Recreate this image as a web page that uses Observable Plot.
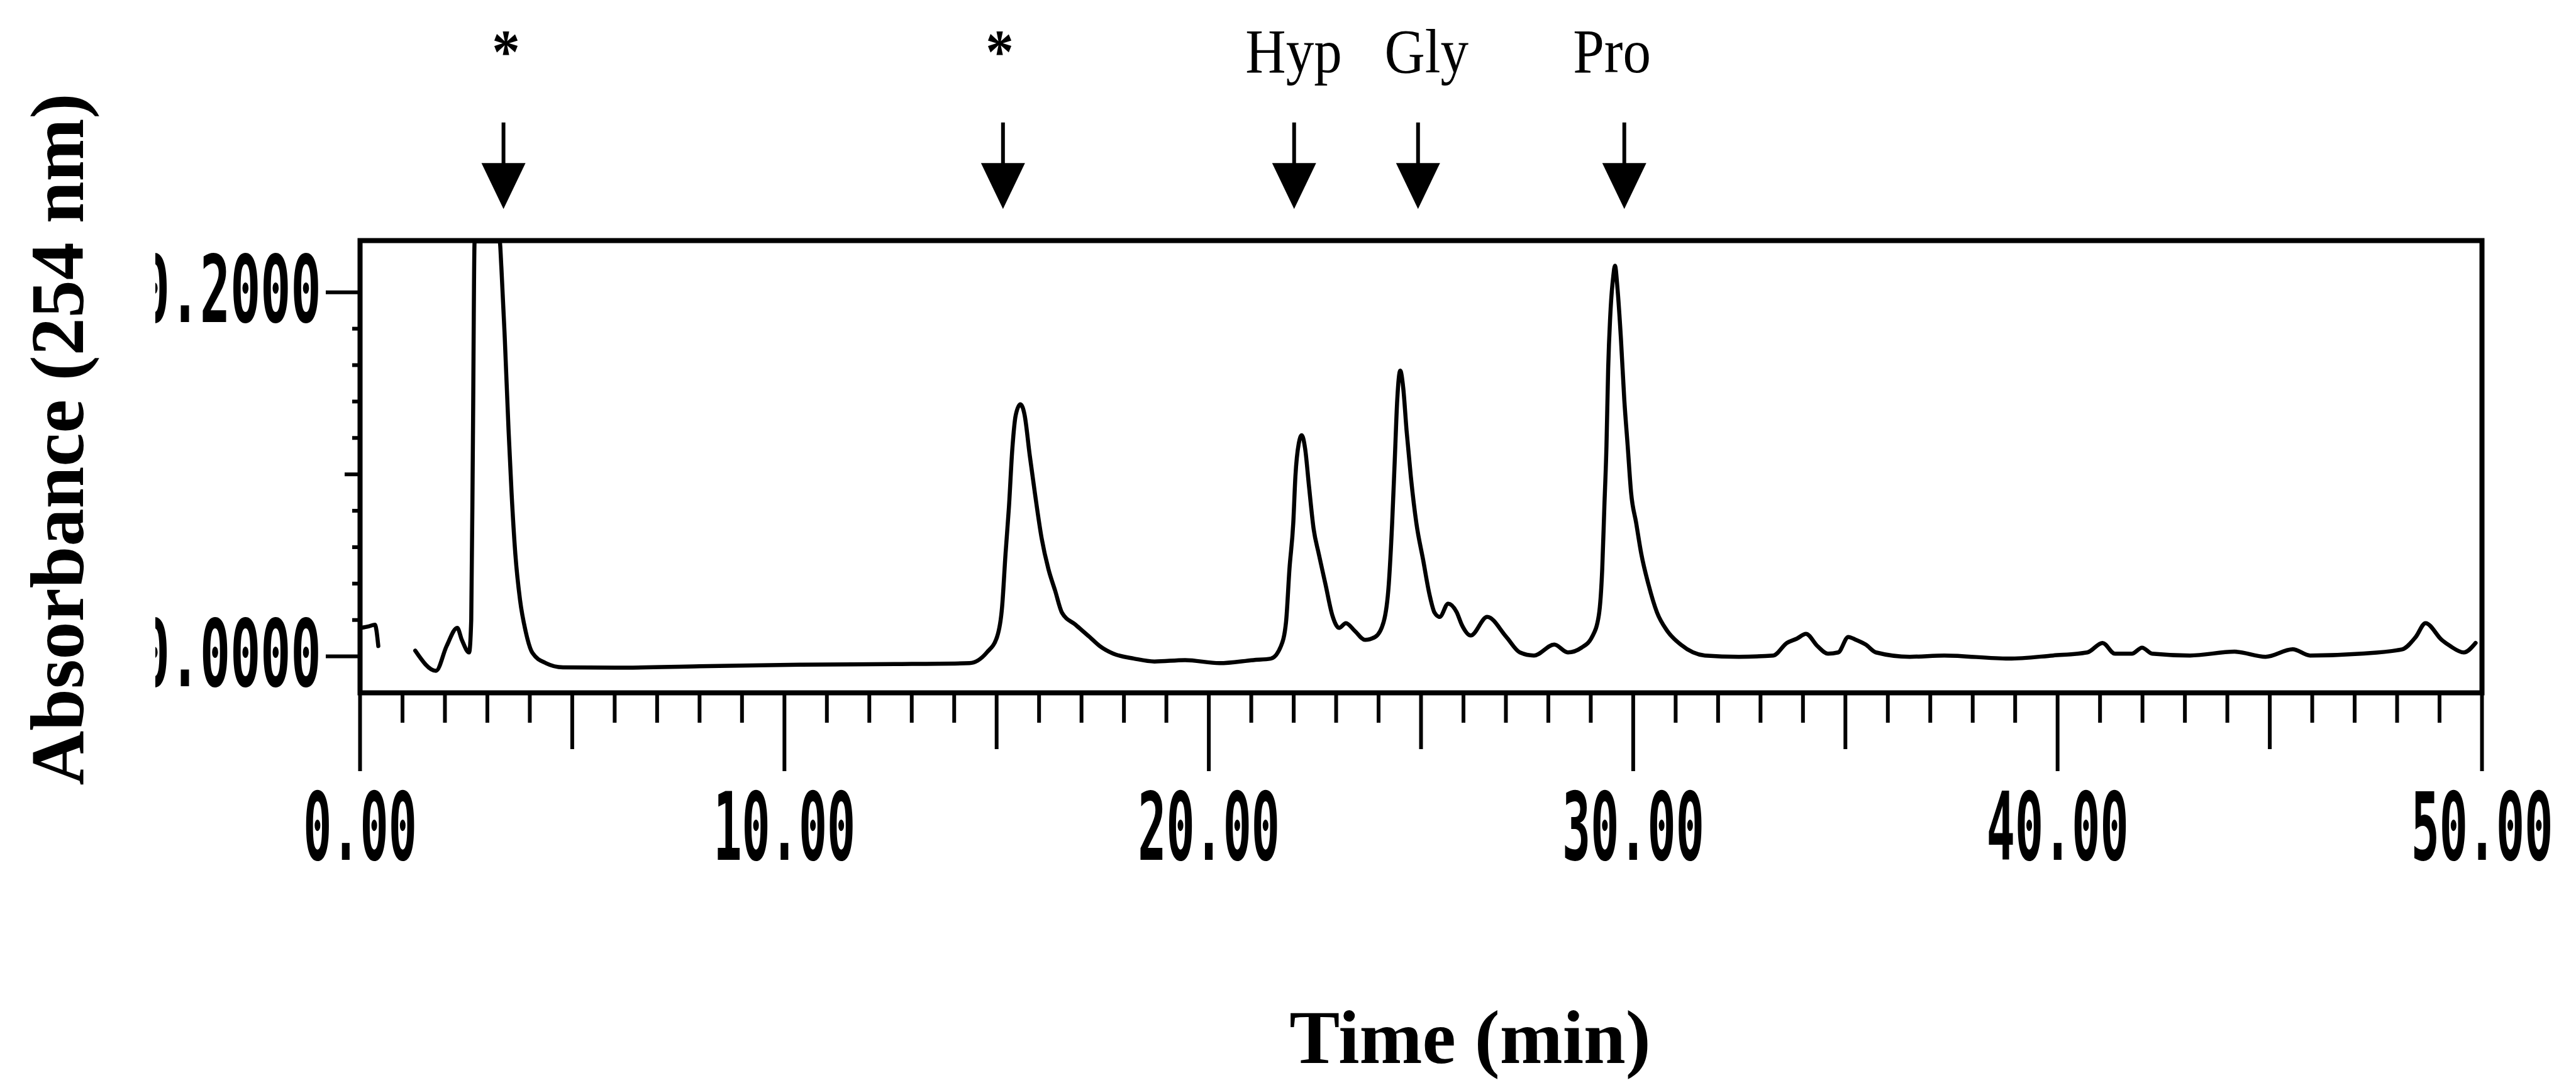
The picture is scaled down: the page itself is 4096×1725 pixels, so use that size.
<!DOCTYPE html>
<html>
<head>
<meta charset="utf-8">
<script src="https://cdn.jsdelivr.net/npm/d3@7"></script>
<script src="https://cdn.jsdelivr.net/npm/@observablehq/plot@0.6"></script>
<style>
  html, body { margin: 0; padding: 0; background: #fff; }
  #chart svg { display: block; }
</style>
</head>
<body>
<div id="chart"></div>
<script>
// ---- data ----
const times = [
  0.03, 0.20, 0.35, 0.43, 0.80,
  1.30, 1.79, 2.04, 2.29, 2.40, 2.57, 2.62, 2.66, 2.70, 3.00, 3.29, 3.33, 3.41, 3.50, 3.57, 3.66, 3.77, 3.90, 4.06, 4.38, 4.78,
  6.00, 8.00, 10.40, 12.59, 14.36, 14.77, 15.01, 15.13, 15.21, 15.29, 15.37, 15.45, 15.56, 15.66, 15.78, 15.90, 16.06, 16.22, 16.38, 16.54, 16.86, 17.19, 17.43, 17.75,
  18.24, 18.72, 19.44, 20.25, 21.05, 21.46, 21.70, 21.82, 21.90, 21.99, 22.04, 22.12, 22.19, 22.27, 22.36, 22.47, 22.59, 22.75, 22.91, 23.07, 23.23, 23.44, 23.68, 23.92,
  24.12, 24.24, 24.32, 24.38, 24.44, 24.51, 24.58, 24.66, 24.76, 24.89, 25.05, 25.20, 25.32, 25.44, 25.64, 25.84, 25.96, 26.17, 26.56, 27.01, 27.33, 27.66, 28.14, 28.46, 28.78,
  29.03, 29.19, 29.27, 29.32, 29.37, 29.41, 29.47, 29.53, 29.57, 29.63, 29.71, 29.79, 29.87, 29.95, 30.07, 30.19, 30.36, 30.56, 30.80, 31.12, 31.69, 32.49, 33.30,
  33.62, 33.86, 34.07, 34.34, 34.59, 34.83, 35.07, 35.23, 35.48, 35.72, 36.52, 37.33, 38.85, 39.89, 40.70, 41.06, 41.35, 41.75, 41.99, 42.23, 43.12, 44.17, 44.90,
  45.54, 45.95, 47.15, 48.12, 48.44, 48.67, 49.05, 49.25, 49.57, 49.85
];
const absorbance = [
  0.0157, 0.0165, 0.0174, 0.0057, null,
  0.0032, -0.0079, 0.0057, 0.0157, 0.0090, 0.0022, 0.0200, 0.1200, 0.2280, 0.2280, 0.2280, 0.2138, 0.1750, 0.1240, 0.0900, 0.0560, 0.0310, 0.0140, 0.0020, -0.0037, -0.0060,
  -0.0062, -0.0054, -0.0045, -0.0042, -0.0037, 0.0022, 0.0107, 0.0275, 0.0564, 0.0820, 0.1140, 0.1325, 0.1385, 0.1325, 0.1105, 0.0900, 0.0650, 0.0480, 0.0360, 0.0240, 0.0174, 0.0107, 0.0057, 0.0015,
  -0.0012, -0.0028, -0.0020, -0.0037, -0.0020, -0.0012, 0.0057, 0.0190, 0.0480, 0.0733, 0.0988, 0.1170, 0.1215, 0.1140, 0.0936, 0.0700, 0.0564, 0.0395, 0.0226, 0.0157, 0.0183, 0.0140, 0.0091, 0.0107,
  0.0190, 0.0395, 0.0733, 0.1070, 0.1410, 0.1570, 0.1477, 0.1240, 0.0988, 0.0733, 0.0530, 0.0340, 0.0240, 0.0217, 0.0290, 0.0243, 0.0174, 0.0115, 0.0217, 0.0107, 0.0022, 0.0005, 0.0065, 0.0022, 0.0048,
  0.0107, 0.0226, 0.0480, 0.0820, 0.1156, 0.1580, 0.1917, 0.2087, 0.2146, 0.2020, 0.1748, 0.1410, 0.1156, 0.0900, 0.0733, 0.0564, 0.0395, 0.0242, 0.0141, 0.0065, 0.0005, -0.0002, 0.0005,
  0.0074, 0.0098, 0.0124, 0.0057, 0.0015, 0.0022, 0.0107, 0.0093, 0.0065, 0.0022, -0.0002, 0.0005, -0.0012, 0.0005, 0.0022, 0.0074, 0.0015, 0.0015, 0.0048, 0.0015, 0.0005, 0.0026, -0.0002,
  0.0039, 0.0005, 0.0015, 0.0039, 0.0107, 0.0183, 0.0091, 0.0057, 0.0022, 0.0074
];
const arrowTimes = [3.38, 15.15, 22.01, 24.93, 29.79];
const peakLabels = ["*", "*", "Hyp", "Gly", "Pro"];
const labelTimes = [3.44, 15.07, 22.0, 25.13, 29.5];

const xMajorTicks = [0, 10, 20, 30, 40, 50];
const xMediumTicks = [5, 15, 25, 35, 45];
const xMinorTicks = d3.range(1, 50).filter(d => d % 5 !== 0);
const yMajorTicks = [0, 0.2];
const yMediumTicks = [0.1];
const yMinorTicks = [0.02, 0.04, 0.06, 0.08, 0.12, 0.14, 0.16, 0.18];

const xTitle = "Time (min)";
const yTitle = "Absorbance (254 nm)";

// ---- build tables ----
const trace = times.map((t, i) => ({t, a: absorbance[i]}));
const peaks = arrowTimes.map((t, i) => ({t, lt: labelTimes[i], label: peakLabels[i]}));

// narrow filled downward arrow head
const headSymbol = {
  draw(ctx) {
    ctx.moveTo(-35, -36.5);
    ctx.lineTo(35, -36.5);
    ctx.lineTo(0, 36.5);
    ctx.closePath();
  }
};

const mono = "'DejaVu Sans Mono', 'Liberation Mono', monospace";
const serif = "'Liberation Serif', 'Times New Roman', serif";

const svg = Plot.plot({
  width: 4096,
  height: 1725,
  marginLeft: 572,
  marginRight: 150,
  marginTop: 382,
  marginBottom: 624,
  style: {background: "#fff", color: "#000", overflow: "visible"},
  x: {domain: [0, 50], label: null},
  y: {domain: [-0.02, 0.2284], label: null},
  marks: [
    Plot.frame({stroke: "#000", strokeWidth: 8}),
    // x axis ticks (minor / medium / major)
    Plot.axisX(xMinorTicks, {tickSize: 48, strokeWidth: 6, tickFormat: () => "", label: null}),
    Plot.axisX(xMediumTicks, {tickSize: 90, strokeWidth: 6, tickFormat: () => "", label: null}),
    Plot.axisX(xMajorTicks, {
      tickSize: 125, tickPadding: 34, strokeWidth: 6, label: null,
      tickFormat: d3.format(".2f"),
      fontFamily: mono, fontSize: 150, fontWeight: "bold", fill: "#000"
    }),
    // y axis ticks
    Plot.axisY(yMinorTicks, {tickSize: 12, strokeWidth: 6, tickFormat: () => "", label: null}),
    Plot.axisY(yMediumTicks, {tickSize: 24, strokeWidth: 6, tickFormat: () => "", label: null}),
    Plot.axisY(yMajorTicks, {
      tickSize: 54, tickPadding: 8, strokeWidth: 6, label: null,
      tickFormat: d3.format(".4f"),
      fontFamily: mono, fontSize: 148, fontWeight: "bold", fill: "#000"
    }),
    // chromatogram trace
    Plot.line(trace, {x: "t", y: "a", stroke: "#000", strokeWidth: 6.5, curve: "monotone-x"}),
    // arrows
    Plot.ruleX(peaks, {x: "t", y1: 0.2931, y2: 0.262, stroke: "#000", strokeWidth: 6}),
    Plot.dot(peaks, {x: "t", y: 0.2584, symbol: headSymbol, fill: "#000", stroke: null}),
    // peak labels
    Plot.text(peaks, {
      filter: d => d.label === "*", x: "lt", text: "label",
      frameAnchor: "top", lineAnchor: "bottom", dy: -267.5,
      fontFamily: serif, fontSize: 99, fontWeight: "bold", fill: "#000"
    }),
    Plot.text(peaks, {
      filter: d => d.label !== "*", x: "lt", text: "label",
      frameAnchor: "top", lineAnchor: "bottom", dy: -267.5,
      fontFamily: serif, fontSize: 99, fill: "#000"
    }),
    // axis titles
    Plot.text([yTitle], {
      text: d => d, frameAnchor: "left", textAnchor: "middle", lineAnchor: "bottom",
      rotate: -90, dx: -440.5, dy: -43.5,
      fontFamily: serif, fontSize: 120, fontWeight: "bold", fill: "#000"
    }),
    Plot.text([xTitle], {
      text: d => d, frameAnchor: "bottom", textAnchor: "middle", lineAnchor: "bottom",
      dx: 78, dy: 588,
      fontFamily: serif, fontSize: 120, fontWeight: "bold", fill: "#000"
    })
  ]
});

document.getElementById("chart").appendChild(svg);

// ---- post-process: condensed printer-style tick labels and label widths ----
function squeeze(el, sx) {
  const t = el.getAttribute("transform") || "";
  let pre = "";
  const xa = el.getAttribute("x");
  if (xa !== null && !isNaN(+xa)) { pre = `translate(${xa},0) `; el.removeAttribute("x"); }
  el.setAttribute("transform", `${t} ${pre}scale(${sx},1)`.trim());
}
const allTexts = Array.from(svg.querySelectorAll("text"));
const xLabelEls = allTexts.filter(t => /^\d+\.\d{2}$/.test(t.textContent));
const yLabelEls = allTexts.filter(t => /^\d+\.\d{4}$/.test(t.textContent));
const peakEls = allTexts.filter(t => peakLabels.includes(t.textContent));
xLabelEls.forEach(el => squeeze(el, 0.5));
yLabelEls.forEach(el => squeeze(el, 0.54));
peakEls.forEach(el => squeeze(el, 0.9));

// the scanned original cuts off the left edge of the y tick labels
if (yLabelEls.length) {
  const NS = "http://www.w3.org/2000/svg";
  const defs = document.createElementNS(NS, "defs");
  const cp = document.createElementNS(NS, "clipPath");
  cp.setAttribute("id", "ylab-clip");
  cp.setAttribute("clipPathUnits", "userSpaceOnUse");
  const r = document.createElementNS(NS, "rect");
  r.setAttribute("x", 247); r.setAttribute("y", 0);
  r.setAttribute("width", 4096); r.setAttribute("height", 1725);
  cp.appendChild(r); defs.appendChild(cp); svg.insertBefore(defs, svg.firstChild);
  const g = yLabelEls[0].parentNode;
  const wrap = document.createElementNS(NS, "g");
  wrap.setAttribute("clip-path", "url(#ylab-clip)");
  g.parentNode.insertBefore(wrap, g);
  wrap.appendChild(g);
}
</script>
</body>
</html>
